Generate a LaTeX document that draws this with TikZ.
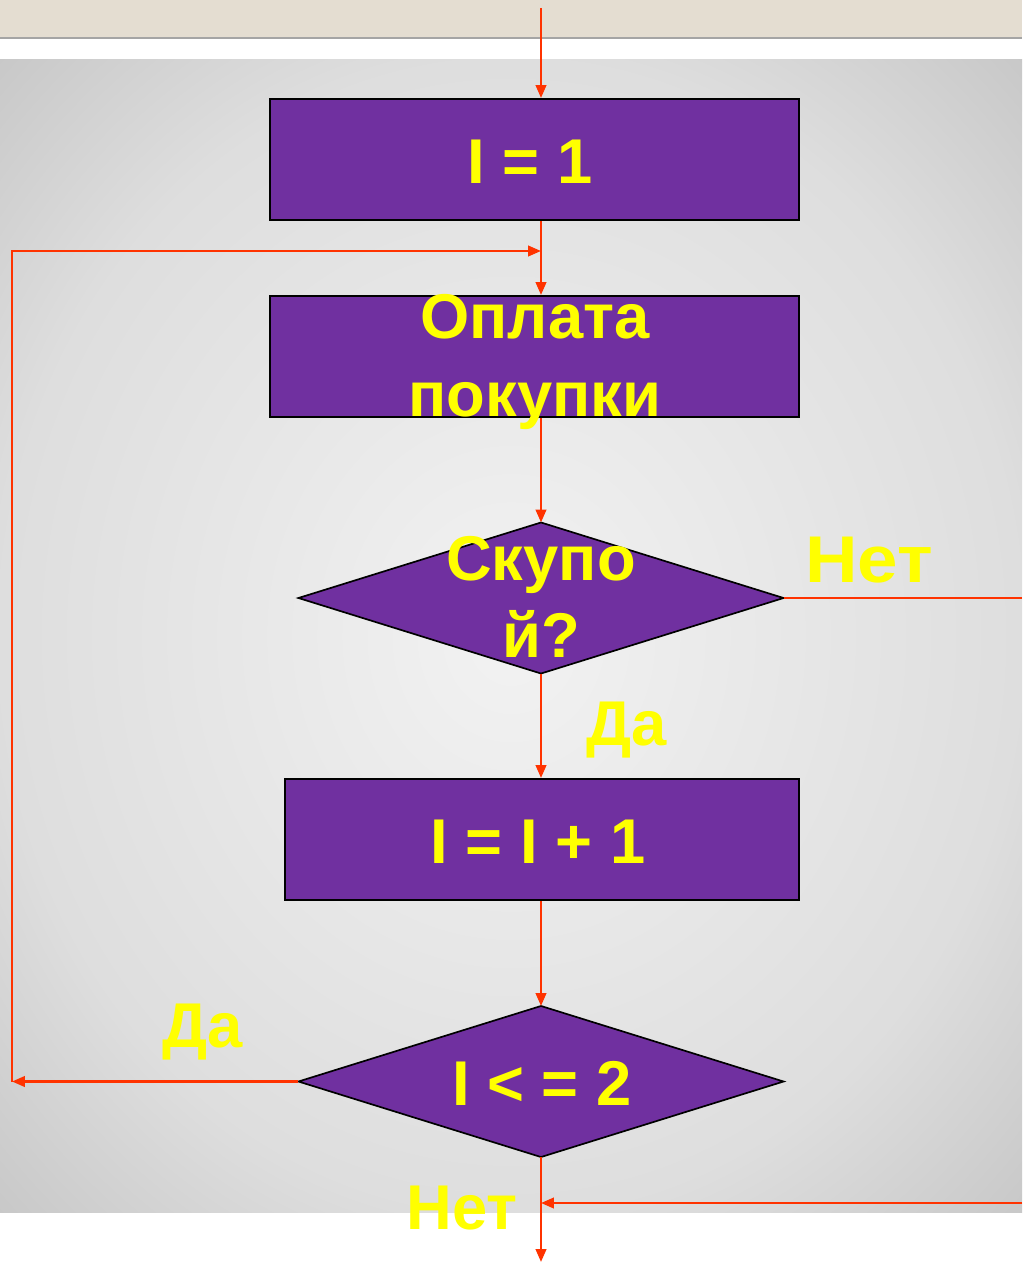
\documentclass[tikz,border=0pt]{standalone}
\usepackage{fontspec}
\usepackage{graphicx}
\setmainfont{Liberation Sans}
\definecolor{boxviolet}{RGB}{112, 48, 160}
\definecolor{flowred}{RGB}{255, 51, 0}
\definecolor{txtyellow}{RGB}{255, 255, 0}
\definecolor{topbeige}{RGB}{228, 221, 209}
\definecolor{topline}{RGB}{165, 165, 165}
\usetikzlibrary{shapes.geometric, arrows.meta, positioning, calc}
\pgfdeclareradialshading{slidebg}{\pgfpoint{0bp}{0bp}}{color(0bp)=(black!5); color(25bp)=(black!13); color(36bp)=(black!22); color(50bp)=(black!22)}

\tikzset{
  blockbox/.style={draw=black, line width=1.4pt, fill=boxviolet, minimum width=13.225cm, minimum height=3.025cm, inner sep=0pt},
  choice/.style={diamond, draw=black, line width=1.2pt, fill=boxviolet, minimum width=12.125cm, minimum height=3.775cm, inner sep=0pt, outer sep=0pt},
  bigtxt/.style={text=txtyellow, font=\fontsize{45}{55}\selectfont\bfseries, align=center, inner sep=0pt},
  flow/.style={draw=flowred, line width=1.7pt, -{Triangle[length=0.32cm, width=0.26cm]}},
  flowline/.style={draw=flowred, line width=1.7pt},
}

\begin{document}
\begin{tikzpicture}[x=0.025cm, y=-0.025cm]
  \useasboundingbox (0, 0) rectangle (1022, 1262);

  % Slide background
  \fill[topbeige] (0, 0) rectangle (1022, 37);
  \fill[topline] (0, 37) rectangle (1022, 39);
  \shade[shading=slidebg] (0, 60) rectangle (1022, 1212);

  % Blocks
  \node[blockbox] (init) at (534.5, 159.5) {};
  \node[blockbox] (pay) at (534.5, 356.5) {};
  \node[choice] (again) at (541, 598) {};
  \node[blockbox, minimum width=12.85cm] (incr) at (542, 839.5) {};
  \node[choice] (check) at (541, 1081.5) {};

  % Texts
  \node[bigtxt, anchor=base] (initlbl) at (530, 183) {I = 1};
  \node[bigtxt] (paylbl) at (535, 362) {Оплата\\покупки};
  \node[bigtxt] (againlbl) at (541, 597) {Скупо\\й?};
  \node[bigtxt, anchor=base] (incrlbl) at (538, 863) {I = I + 1};
  \node[bigtxt, anchor=base] (checklbl) at (542, 1105) {I < = 2};

  \node[bigtxt, anchor=base, font=\fontsize{47}{55}\selectfont\bfseries] (no1) at (869, 582) {\scalebox{1.1}[1]{Нет}};
  \node[bigtxt, anchor=base] (yes1) at (627, 745) {Да};
  \node[bigtxt, anchor=base] (yes2) at (203, 1047) {Да};
  \node[bigtxt, anchor=base] (no2) at (462, 1229) {Нет};

  % Free ends
  \coordinate (entry) at (541, 8);
  \coordinate (join) at (541, 251);
  \coordinate (ret) at (12, 1081.5);
  \coordinate (noright) at (1022, 598);
  \coordinate (backin) at (1022, 1203);
  \coordinate (exit) at (541, 1262);

  % Connectors
  \draw[flow] (entry) -- (entry |- init.north);
  \draw[flow] (init.south -| entry) -- (pay.north -| entry);
  \draw[flow] (pay.south -| entry) -- (again.north);
  \draw[flowline] (again.east) -- (noright);
  \draw[flow] (again.south) -- (incr.north -| again.south);
  \draw[flow] (incr.south -| check.north) -- (check.north);
  \draw[flow] (check.west) -- (ret);
  \draw[flow] (ret) |- (join);
  \draw[flow] (check.south) -- (exit);
  \draw[flow] (backin) -- (backin -| exit);
\end{tikzpicture}
\end{document}
